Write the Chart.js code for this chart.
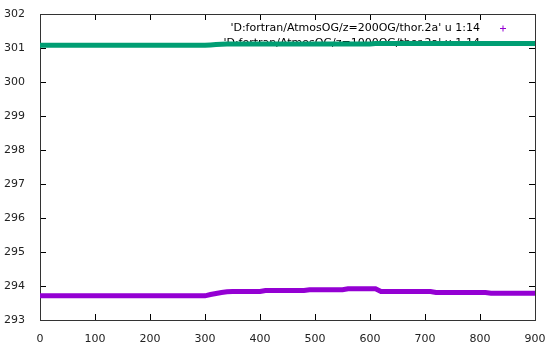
<!DOCTYPE html>
<html>
<head>
<meta charset="utf-8">
<script src="https://cdn.jsdelivr.net/npm/chart.js@4"></script>
<style>
  html, body { margin: 0; padding: 0; background: #fff; }
  #wrap { width: 553px; height: 347px; }
</style>
</head>
<body>
<div id="wrap"><canvas id="thorchart" width="553" height="347"></canvas></div>
<script>
const xs = [0, 10, 20, 30, 40, 50, 60, 70, 80, 90, 100, 110, 120, 130, 140, 150, 160, 170, 180, 190,
    200, 210, 220, 230, 240, 250, 260, 270, 280, 290, 300, 310, 320, 330, 340, 350, 360, 370, 380, 390,
    400, 410, 420, 430, 440, 450, 460, 470, 480, 490, 500, 510, 520, 530, 540, 550, 560, 570, 580, 590,
    600, 610, 620, 630, 640, 650, 660, 670, 680, 690, 700, 710, 720, 730, 740, 750, 760, 770, 780, 790,
    800, 810, 820, 830, 840, 850, 860, 870, 880, 890, 900];

// z=200OG
const t200 = [293.71, 293.71, 293.71, 293.71, 293.71, 293.71, 293.71, 293.71, 293.71, 293.71,
    293.71, 293.71, 293.71, 293.71, 293.71, 293.71, 293.71, 293.71, 293.71, 293.71,
    293.71, 293.71, 293.71, 293.71, 293.71, 293.71, 293.71, 293.71, 293.71, 293.71,
    293.71, 293.75, 293.78, 293.81, 293.83,
    293.84, 293.84, 293.84, 293.84, 293.84, 293.84,
    293.87, 293.87, 293.87, 293.87, 293.87, 293.87, 293.87, 293.87,
    293.89, 293.89, 293.89, 293.89, 293.89, 293.89, 293.89,
    293.92, 293.92, 293.92, 293.92, 293.92, 293.92,
    293.84, 293.84, 293.84, 293.84, 293.84, 293.84, 293.84, 293.84, 293.84, 293.84,
    293.81, 293.81, 293.81, 293.81, 293.81, 293.81, 293.81, 293.81, 293.81, 293.81,
    293.79, 293.79, 293.79, 293.79, 293.79, 293.79, 293.79, 293.79, 293.79];

// z=1000OG
const t1000 = [301.08, 301.08, 301.08, 301.08, 301.08, 301.08, 301.08, 301.08, 301.08, 301.08,
    301.08, 301.08, 301.08, 301.08, 301.08, 301.08, 301.08, 301.08, 301.08, 301.08,
    301.08, 301.08, 301.08, 301.08, 301.08, 301.08, 301.08, 301.08, 301.08, 301.08,
    301.08, 301.09, 301.10, 301.11,
    301.12, 301.12, 301.12, 301.12, 301.12, 301.12, 301.12, 301.12, 301.12, 301.12,
    301.12, 301.12, 301.12, 301.12, 301.12, 301.12, 301.12, 301.12, 301.12, 301.12,
    301.12, 301.12, 301.12, 301.12, 301.12, 301.12, 301.12,
    301.13, 301.13, 301.13, 301.13, 301.13, 301.13, 301.13, 301.13, 301.13, 301.13,
    301.13, 301.13, 301.13, 301.13, 301.13, 301.13, 301.13, 301.13, 301.13, 301.13,
    301.13, 301.13, 301.13, 301.13, 301.13, 301.13, 301.13, 301.13, 301.13, 301.13];

const labels = ["'D:fortran/AtmosOG/z=200OG/thor.2a' u 1:14", "'D:fortran/AtmosOG/z=1000OG/thor.2a' u 1:14"];
const colors = ['#9400d3', '#009e73'];
const yTicks = [293, 294, 295, 296, 297, 298, 299, 300, 301, 302];
const xTicks = [0, 100, 200, 300, 400, 500, 600, 700, 800, 900];

const FONT = '"DejaVu Sans", sans-serif';

// gnuplot style: key drawn under the data, ticks pointing inward on all four sides
const gnuplotBits = {
    id: 'gnuplotBits',
    beforeDatasetsDraw(chart) {
        const c = chart.ctx, a = chart.chartArea;
        c.save();
        c.font = '11px ' + FONT;
        c.fillStyle = '#000';
        c.textAlign = 'right';
        c.textBaseline = 'middle';
        c.fillText(labels[0], 480, 28);
        c.fillText(labels[1], 480, 43);
        // key sample for first series
        c.strokeStyle = colors[0];
        c.lineWidth = 1;
        c.beginPath();
        c.moveTo(500, 28.5); c.lineTo(506, 28.5);
        c.moveTo(503, 25.5); c.lineTo(503, 31.5);
        c.stroke();

        const xs_ = chart.scales.x, ys_ = chart.scales.y;
        c.strokeStyle = '#000';
        c.beginPath();
        xTicks.forEach(v => {
            const p = Math.round(xs_.getPixelForValue(v)) + 0.5;
            c.moveTo(p, a.bottom); c.lineTo(p, a.bottom - 6);
            c.moveTo(p, a.top); c.lineTo(p, a.top + 6);
        });
        yTicks.forEach(v => {
            const p = Math.round(ys_.getPixelForValue(v)) + 0.5;
            c.moveTo(a.left, p); c.lineTo(a.left + 6, p);
            c.moveTo(a.right, p); c.lineTo(a.right - 6, p);
        });
        c.stroke();
        c.strokeStyle = '#333';
        c.strokeRect(a.left + 0.5, a.top + 0.5, a.right - a.left, a.bottom - a.top);
        c.restore();
    }
};

const ctx = document.getElementById('thorchart').getContext('2d');

new Chart(ctx, {
    type: 'line',
    data: {
        datasets: [
            {
                label: labels[0],
                data: xs.map((x, i) => ({ x: x, y: t200[i] })),
                borderColor: colors[0],
                borderWidth: 5,
                pointRadius: 0
            },
            {
                label: labels[1],
                data: xs.map((x, i) => ({ x: x, y: t1000[i] })),
                borderColor: colors[1],
                borderWidth: 5,
                pointRadius: 0
            }
        ]
    },
    options: {
        responsive: false,
        animation: false,
        layout: { padding: { top: 14, right: 18, left: 0, bottom: 0 } },
        plugins: {
            legend: { display: false },
            tooltip: { enabled: false }
        },
        scales: {
            x: {
                type: 'linear',
                min: 0,
                max: 900,
                afterBuildTicks: s => { s.ticks = xTicks.map(v => ({ value: v })); },
                afterFit: s => { s.height = 27; },
                grid: { display: false },
                border: { display: false },
                ticks: { color: '#222', font: { family: FONT, size: 11 }, padding: 5, maxRotation: 0 }
            },
            y: {
                min: 293,
                max: 302,
                afterBuildTicks: s => { s.ticks = yTicks.map(v => ({ value: v })); },
                afterFit: s => { s.width = 40; },
                grid: { display: false },
                border: { display: false },
                ticks: { color: '#222', font: { family: FONT, size: 11 }, padding: 7 }
            }
        }
    },
    plugins: [gnuplotBits]
});
</script>
</body>
</html>
